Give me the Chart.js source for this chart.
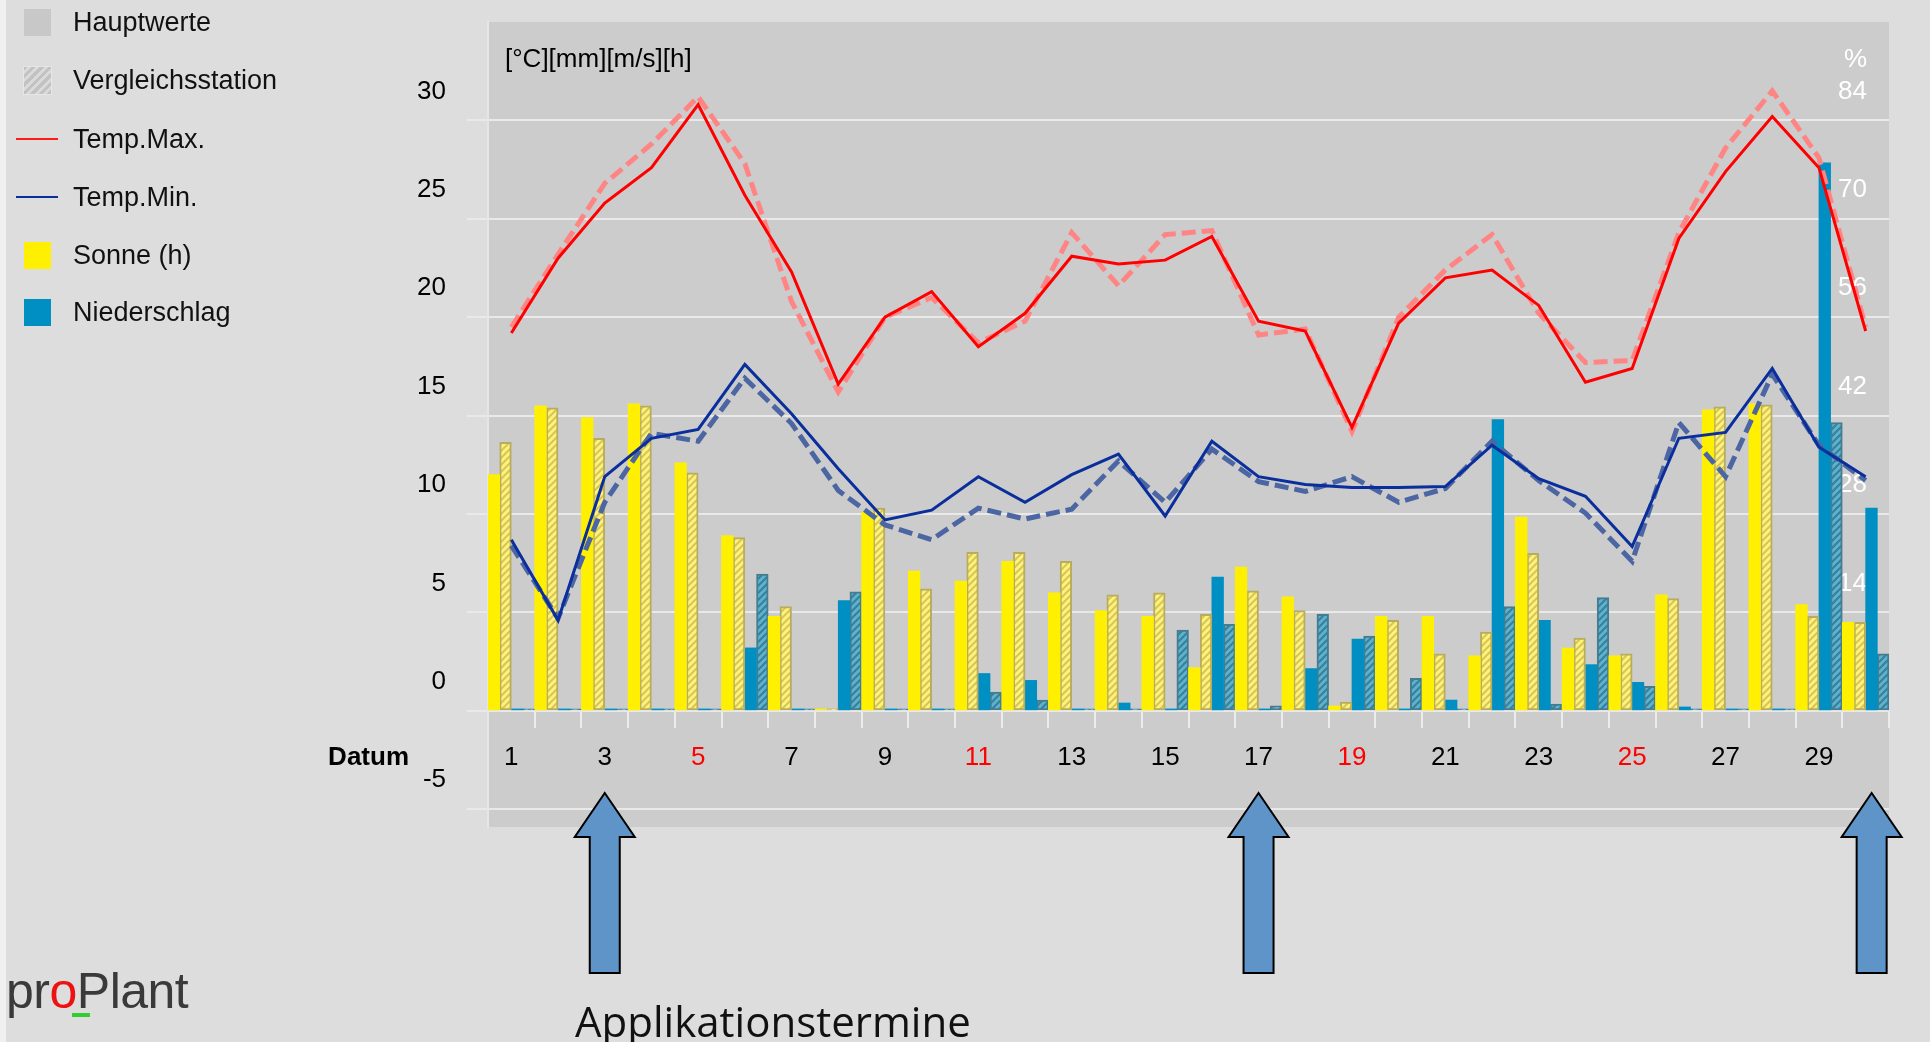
<!DOCTYPE html>
<html lang="de">
<head>
<meta charset="utf-8">
<title>Wetter Monatsübersicht</title>
<script src="https://cdn.jsdelivr.net/npm/chart.js@4.4.1/dist/chart.umd.min.js"></script>
<style>
  html, body { margin: 0; padding: 0; }
  body {
    width: 1930px; height: 1042px; position: relative; overflow: hidden;
    background: #dddddd; font-family: "Liberation Sans", Arial, sans-serif;
  }
  #rand { position: absolute; left: 0; top: 0; width: 6px; height: 1042px; background: #f0f0f0; }
  #box { position: absolute; left: 0; top: 0; width: 1930px; height: 1042px; }
  .leg { position: absolute; left: 73px; height: 32px; line-height: 32px; font-size: 27px; color: #111; white-space: nowrap; }
  .sw { position: absolute; left: 24px; width: 27px; height: 27px; }
  .ln { position: absolute; left: 16px; width: 42px; height: 2px; }
  #logo { position: absolute; left: 6px; top: 966px; font-size: 50px; line-height: 50px; color: #3a3a3a; letter-spacing: -0.5px; }
  #logo .o { color: #ee1111; }
  #logo-strich { position: absolute; left: 72px; top: 1013px; width: 18px; height: 4px; background: #33cc33; }
  #termine { position: absolute; left: 575px; top: 1000px; font-family: "Open Sans", sans-serif; font-size: 42px; line-height: 41px; color: #111; white-space: nowrap; }
</style>
</head>
<body>
<div id="rand"></div>
<div id="box"><canvas id="grafico-wetter"></canvas></div>

<div class="sw" style="top:9px;background:#c8c8c8"></div>
<div class="leg" style="top:6px">Hauptwerte</div>
<div class="sw" style="top:67px;background:repeating-linear-gradient(-45deg,#c2c2c2 0 3px,#dadada 3px 6px);outline:1px solid #e6e6e6"></div>
<div class="leg" style="top:64px">Vergleichsstation</div>
<div class="ln" style="top:138px;background:#ff1a1a"></div>
<div class="leg" style="top:123px">Temp.Max.</div>
<div class="ln" style="top:196px;background:#0a2f9c"></div>
<div class="leg" style="top:181px">Temp.Min.</div>
<div class="sw" style="top:242px;background:#ffef00"></div>
<div class="leg" style="top:239px">Sonne (h)</div>
<div class="sw" style="top:299px;background:#008fc3"></div>
<div class="leg" style="top:296px">Niederschlag</div>

<div id="logo">pr<span class="o">o</span>Plant</div>
<div id="logo-strich"></div>
<div id="termine">Applikationstermine</div>

<script>
// Tage des Monats
const tage = ['1','2','3','4','5','6','7','8','9','10','11','12','13','14','15',
              '16','17','18','19','20','21','22','23','24','25','26','27','28','29','30'];
const roteTage = ['5', '11', '19', '25'];
const applikationen = ['3', '17', '30'];

// Sonnenstunden (h)
const sonne    = [12.0, 15.5, 14.9, 15.6, 12.6, 8.9, 4.8, 0.1, 10.1, 7.1, 6.6, 7.6, 6.0, 5.1, 4.8,
                  2.2, 7.3, 5.8, 0.25, 4.8, 4.8, 2.8, 9.85, 3.2, 2.8, 5.9, 15.3, 15.6, 5.4, 4.5];
const sonneVgl = [13.65, 15.4, 13.85, 15.5, 12.1, 8.8, 5.3, 0.1, 10.3, 6.2, 8.05, 8.05, 7.6, 5.9, 6.0,
                  4.9, 6.1, 5.1, 0.45, 4.6, 2.9, 4.0, 8.0, 3.7, 2.9, 5.7, 15.45, 15.55, 4.8, 4.5];
// Niederschlag (mm)
const regen    = [0.1, 0.1, 0.1, 0.1, 0.1, 3.2, 0.1, 5.6, 0.1, 0.1, 1.9, 1.55, 0.1, 0.4, 0.1,
                  6.8, 0.1, 2.15, 3.65, 0.1, 0.55, 14.8, 4.6, 2.35, 1.45, 0.2, 0.1, 0.1, 27.85, 10.3];
const regenVgl = [0.1, 0.1, 0.1, 0.1, 0.1, 6.95, 0.1, 6.05, 0.1, 0.1, 0.95, 0.55, 0.1, 0.1, 4.1,
                  4.4, 0.25, 4.9, 3.8, 1.65, 0.1, 5.3, 0.35, 5.75, 1.25, 0.1, 0.1, 0.1, 14.65, 2.9];
// Temperaturen (°C)
const tMax    = [19.2, 23.0, 25.8, 27.6, 30.8, 26.2, 22.3, 16.6, 20.0, 21.3, 18.5, 20.2, 23.1, 22.7, 22.9,
                 24.1, 19.8, 19.3, 14.4, 19.7, 22.0, 22.4, 20.6, 16.7, 17.4, 24.0, 27.4, 30.2, 27.6, 19.3];
const tMaxVgl = [19.5, 23.2, 26.8, 28.8, 31.2, 27.8, 20.8, 16.2, 20.0, 21.0, 18.7, 19.8, 24.3, 21.6, 24.2,
                 24.4, 19.1, 19.4, 14.2, 20.0, 22.4, 24.2, 20.2, 17.7, 17.8, 24.3, 28.6, 31.5, 28.1, 19.5];
const tMin    = [8.7, 4.6, 11.9, 13.85, 14.3, 17.6, 15.1, 12.3, 9.7, 10.2, 11.9, 10.6, 12.0, 13.05, 9.9,
                 13.7, 11.9, 11.5, 11.35, 11.35, 11.4, 13.5, 11.8, 10.9, 8.35, 13.85, 14.15, 17.4, 13.4, 11.9];
const tMinVgl = [8.4, 4.7, 10.6, 14.1, 13.7, 16.9, 14.6, 11.2, 9.45, 8.7, 10.3, 9.75, 10.25, 12.7, 10.6,
                 13.3, 11.65, 11.15, 11.9, 10.6, 11.3, 13.7, 11.7, 10.05, 7.6, 14.65, 11.9, 17.1, 13.5, 11.7];

// Achsenbeschriftungen
const yTicks = [-5, 0, 5, 10, 15, 20, 25, 30];
const prozentTicks = [0, 14, 28, 42, 56, 70, 84];

const schrift = '"Liberation Sans", Arial, sans-serif';
Chart.defaults.font.family = schrift;

// Schraffur fuer die Vergleichsstation
function schraffur(grund, strich) {
    const c = document.createElement('canvas');
    c.width = 7; c.height = 7;
    const g = c.getContext('2d');
    g.fillStyle = grund;
    g.fillRect(0, 0, 7, 7);
    g.strokeStyle = strich;
    g.lineWidth = 2;
    g.beginPath();
    g.moveTo(-1, 8); g.lineTo(8, -1);
    g.moveTo(-1, 1); g.lineTo(1, -1);
    g.moveTo(6, 8); g.lineTo(8, 6);
    g.stroke();
    return g.createPattern(c, 'repeat');
}

const extras = {
    id: 'extras',
    beforeDraw(chart) {
        const { ctx, chartArea: a } = chart;
        ctx.save();
        ctx.fillStyle = '#cccccc';
        ctx.fillRect(a.left, a.top, a.right - a.left, a.bottom - a.top);
        ctx.restore();
    },
    afterDraw(chart) {
        const { ctx, chartArea: a, scales } = chart;
        ctx.save();
        ctx.font = '26px ' + schrift;
        ctx.textBaseline = 'middle';
        ctx.fillStyle = '#000';
        ctx.textAlign = 'left';
        ctx.fillText('[°C][mm][m/s][h]', a.left + 17, a.top + 38);
        ctx.fillStyle = '#ffffff';
        ctx.textAlign = 'right';
        ctx.fillText('%', a.right - 22, a.top + 38);
        ctx.fillStyle = '#000';
        ctx.font = 'bold 26px ' + schrift;
        ctx.fillText('Datum', 409, scales.y.getPixelForValue(0) + 47);

        // Pfeile fuer die Applikationstermine
        applikationen.forEach(function (tag) {
            const x = scales.x.getPixelForValue(tage.indexOf(tag)) + (tag === '30' ? 6 : 0);
            const spitze = a.bottom - 34, basis = a.bottom + 10, ende = a.bottom + 146;
            ctx.beginPath();
            ctx.moveTo(x, spitze);
            ctx.lineTo(x + 30, basis);
            ctx.lineTo(x + 15, basis);
            ctx.lineTo(x + 15, ende);
            ctx.lineTo(x - 15, ende);
            ctx.lineTo(x - 15, basis);
            ctx.lineTo(x - 30, basis);
            ctx.closePath();
            ctx.fillStyle = '#5e94c8';
            ctx.fill();
            ctx.lineWidth = 2;
            ctx.strokeStyle = '#000';
            ctx.stroke();
        });
        ctx.restore();
    }
};

const ctxWetter = document.getElementById('grafico-wetter');
new Chart(ctxWetter, {
    type: 'bar',
    data: {
        labels: tage,
        datasets: [
            { type: 'line', label: 'Temp.Max.', data: tMax, yAxisID: 'y', order: 0,
              borderColor: '#ff0000', borderWidth: 3, pointRadius: 0, tension: 0 },
            { type: 'line', label: 'Temp.Min.', data: tMin, yAxisID: 'y', order: 0,
              borderColor: '#0a2f9c', borderWidth: 3, pointRadius: 0, tension: 0 },
            { type: 'line', label: 'Temp.Max. Vergleichsstation', data: tMaxVgl, yAxisID: 'y', order: 1,
              borderColor: '#ff8585', borderWidth: 5, borderDash: [14, 6], pointRadius: 0, tension: 0 },
            { type: 'line', label: 'Temp.Min. Vergleichsstation', data: tMinVgl, yAxisID: 'y', order: 1,
              borderColor: '#4c66a3', borderWidth: 5, borderDash: [14, 6], pointRadius: 0, tension: 0 },
            { label: 'Sonne (h)', data: sonne, yAxisID: 'y', order: 2,
              backgroundColor: '#ffef00' },
            { label: 'Sonne Vergleichsstation', data: sonneVgl, yAxisID: 'y', order: 2,
              backgroundColor: schraffur('#fff27a', '#d6c65a'), borderColor: '#b8ad5e',
              borderWidth: 2, borderSkipped: false },
            { label: 'Niederschlag', data: regen, yAxisID: 'y', order: 2,
              backgroundColor: '#008fc3' },
            { label: 'Niederschlag Vergleichsstation', data: regenVgl, yAxisID: 'y', order: 2,
              backgroundColor: schraffur('#5cb3cf', '#3a7e98'), borderColor: '#467c8f',
              borderWidth: 2, borderSkipped: false }
        ]
    },
    options: {
        responsive: true,
        maintainAspectRatio: false,
        animation: false,
        events: [],
        layout: { padding: { top: 22, bottom: 215, left: 0, right: 0 } },
        datasets: { bar: { categoryPercentage: 1, barPercentage: 1 } },
        plugins: { legend: { display: false }, tooltip: { enabled: false } },
        scales: {
            x: {
                position: { y: 0 },
                offset: true,
                grid: { offset: true, drawOnChartArea: false, drawTicks: true, tickLength: 17,
                        color: '#ececec', lineWidth: 2 },
                border: { display: false },
                ticks: {
                    autoSkip: false, maxRotation: 0, padding: 14,
                    font: { size: 26 },
                    color: (c) => roteTage.includes(tage[c.index]) ? '#ff0000' : '#000000',
                    callback: (v, i) => (i % 2 === 0 ? tage[i] : '')
                }
            },
            y: {
                position: 'left',
                min: -5.9,
                max: 35,
                afterFit: (s) => { s.width = 488; s.paddingTop = 0; s.paddingBottom = 0; },
                afterBuildTicks: (s) => { s.ticks = yTicks.map(v => ({ value: v })); },
                grid: { color: '#e9e9e9', lineWidth: 2, tickLength: 21 },
                border: { color: '#e6e6e6', width: 2 },
                ticks: { labelOffset: -29, padding: 21, color: '#000', font: { size: 26 } }
            },
            pct: {
                position: 'right',
                min: -5.9 * 2.8,
                max: 35 * 2.8,
                afterFit: (s) => { s.width = 41; s.paddingTop = 0; s.paddingBottom = 0; },
                afterBuildTicks: (s) => { s.ticks = prozentTicks.map(v => ({ value: v })); },
                grid: { drawOnChartArea: false, drawTicks: false },
                border: { display: false },
                ticks: { mirror: true, padding: -22, labelOffset: -29, color: '#ffffff', font: { size: 26 } }
            }
        }
    },
    plugins: [extras]
});
</script>
</body>
</html>
